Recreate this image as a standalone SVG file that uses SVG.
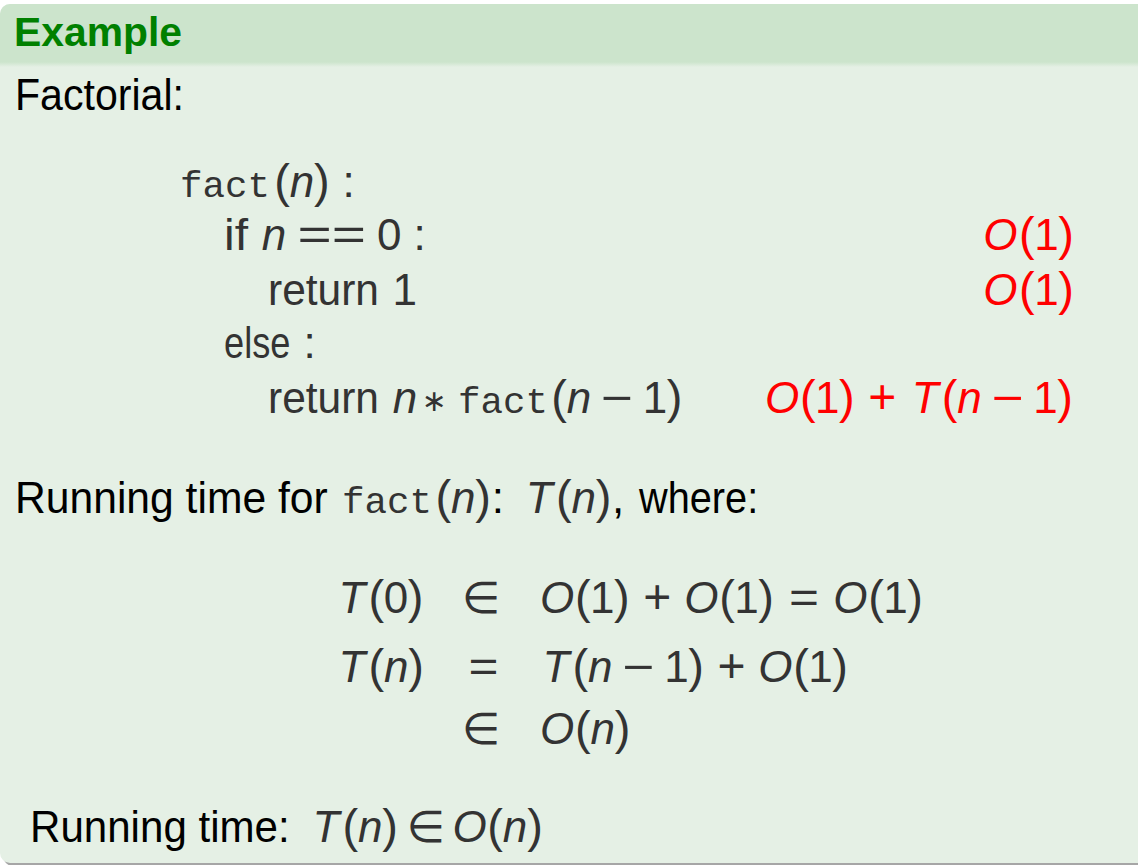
<svg xmlns="http://www.w3.org/2000/svg" width="1138" height="865" viewBox="0 0 1138 865">
<style>
text{font-family:"Liberation Sans",Arial,sans-serif;font-size:44px;fill:#333333}
.tx{fill:#000000}
.it{font-style:italic}
.tt{font-family:"Liberation Mono","DejaVu Sans Mono",monospace;font-size:37.5px}
.sym{font-family:"DejaVu Sans","Liberation Sans",sans-serif}
.ast{font-family:"DejaVu Sans","Liberation Sans",sans-serif;font-size:30px}
.c{text-anchor:middle}
.p{font-size:47px}
.red{fill:#ff0000}
.pl{font-size:48px}
.title{font-weight:bold;font-size:40px;fill:#008000}
</style>
<defs>
<clipPath id="blk"><path d="M0 14 A10 10 0 0 1 10 4 L1150 4 L1150 863 L10 863 A10 10 0 0 1 0 853 Z"/></clipPath>
<linearGradient id="hg" x1="0" y1="0" x2="0" y2="1"><stop offset="0" stop-color="#cce4cc"/><stop offset="1" stop-color="#e5f0e5"/></linearGradient>
</defs>
<g id="block">
<path d="M3 17 A10 10 0 0 1 13 7 L1150 7 L1150 866 L13 866 A10 10 0 0 1 3 856 Z" fill="#a6a6a6"/>
<path d="M0 14 A10 10 0 0 1 10 4 L1150 4 L1150 863 L10 863 A10 10 0 0 1 0 853 Z" fill="#e5f0e5"/>
<g clip-path="url(#blk)">
<rect x="0" y="4" width="1150" height="58" fill="#cce4cc"/>
<rect x="0" y="62" width="1150" height="5" fill="url(#hg)"/>
</g>
</g>
<g id="title"><text class="title" x="14" y="46" textLength="168" lengthAdjust="spacingAndGlyphs">Example</text></g>
<g id="intro"><text class="tx" x="15" y="110" textLength="169" lengthAdjust="spacingAndGlyphs">Factorial:</text></g>

<g id="line-a">
<text class="tt" x="180" y="197">fact</text>
<text class="c p" x="282" y="197">(</text>
<text class="c it" x="301.9" y="197">n</text>
<text class="c p" x="321.8" y="197">)</text>
<text class="c" x="348.5" y="197">:</text>
</g>
<g id="line-b">
<text x="224" y="250" textLength="24" lengthAdjust="spacingAndGlyphs">if</text>
<text class="c it" x="274" y="250">n</text>
<text x="297.6" y="250" textLength="68.4" lengthAdjust="spacingAndGlyphs">==</text>
<text class="c" x="389.2" y="250">0</text>
<text class="c" x="419.5" y="250">:</text>
</g>
<g id="line-c">
<text x="268" y="305" textLength="111" lengthAdjust="spacingAndGlyphs">return</text>
<text class="c" x="404.7" y="305">1</text>
</g>
<g id="line-d">
<text x="224" y="358" textLength="66.4" lengthAdjust="spacingAndGlyphs">else</text>
<text class="c" x="309.5" y="358">:</text>
</g>
<g id="line-e">
<text x="268" y="413" textLength="111" lengthAdjust="spacingAndGlyphs">return</text>
<text class="c it" x="405" y="413">n</text>
<text class="c ast" x="434" y="411">∗</text>
<text class="tt" x="458" y="413">fact</text>
<text class="c p" x="559" y="413">(</text>
<text class="c it" x="578.9" y="413">n</text>
<text class="c" x="617.1" y="413" textLength="32" lengthAdjust="spacingAndGlyphs">−</text>
<text class="c" x="655" y="413">1</text>
<text class="c p" x="674.6" y="413">)</text>
</g>

<g id="cost-b">
<text class="c it red" x="1000.4" y="250">O</text>
<text class="c red p" x="1026.9" y="250">(</text>
<text class="c red" x="1046.5" y="250">1</text>
<text class="c red p" x="1066.1" y="250">)</text>
</g>
<g id="cost-c">
<text class="c it red" x="1000.4" y="305">O</text>
<text class="c red p" x="1026.9" y="305">(</text>
<text class="c red" x="1046.5" y="305">1</text>
<text class="c red p" x="1066.1" y="305">)</text>
</g>
<g id="cost-e">
<text class="c it red" x="782.1" y="413">O</text>
<text class="c red p" x="807.8" y="413">(</text>
<text class="c red" x="827.3" y="413">1</text>
<text class="c red p" x="846.9" y="413">)</text>
<text class="c red pl" x="882.3" y="413">+</text>
<text class="c it red" x="925.1" y="413">T</text>
<text class="c red p" x="949.6" y="413">(</text>
<text class="c it red" x="969.5" y="413">n</text>
<text class="c red" x="1007.7" y="413" textLength="32" lengthAdjust="spacingAndGlyphs">−</text>
<text class="c red" x="1045.6" y="413">1</text>
<text class="c red p" x="1065.2" y="413">)</text>
</g>

<g id="running">
<text class="tx" x="15" y="513" textLength="312.7" lengthAdjust="spacingAndGlyphs">Running time for</text>
<text class="tt" x="342" y="513">fact</text>
<text class="c p" x="443.4" y="513">(</text>
<text class="c it" x="463.3" y="513">n</text>
<text class="c p" x="483.2" y="513">)</text>
<text class="c tx" x="497.8" y="513">:</text>
<text class="c it" x="539.3" y="513">T</text>
<text class="c p" x="563.8" y="513">(</text>
<text class="c it" x="583.7" y="513">n</text>
<text class="c p" x="603.6" y="513">)</text>
<text class="c tx" x="618.2" y="513">,</text>
<text class="tx" x="639" y="513" textLength="119.2" lengthAdjust="spacingAndGlyphs">where:</text>
</g>

<g id="eq-1">
<text class="c it" x="351.9" y="613">T</text>
<text class="c p" x="376.4" y="613">(</text>
<text class="c" x="395.9" y="613">0</text>
<text class="c p" x="415.5" y="613">)</text>
<text class="c sym" x="481" y="613">∈</text>
<text class="c it" x="557.1" y="613">O</text>
<text class="c p" x="582.8" y="613">(</text>
<text class="c" x="602.3" y="613">1</text>
<text class="c p" x="621.9" y="613">)</text>
<text class="c pl" x="657.3" y="613">+</text>
<text class="c it" x="701.3" y="613">O</text>
<text class="c p" x="727" y="613">(</text>
<text class="c" x="746.5" y="613">1</text>
<text class="c p" x="766.1" y="613">)</text>
<text class="c" x="803.9" y="613" textLength="30" lengthAdjust="spacingAndGlyphs">=</text>
<text class="c it" x="850.3" y="613">O</text>
<text class="c p" x="876" y="613">(</text>
<text class="c" x="895.5" y="613">1</text>
<text class="c p" x="915.1" y="613">)</text>
</g>
<g id="eq-2">
<text class="c it" x="351.9" y="682">T</text>
<text class="c p" x="376.4" y="682">(</text>
<text class="c it" x="396.3" y="682">n</text>
<text class="c p" x="416.2" y="682">)</text>
<text class="c" x="483.5" y="682" textLength="30" lengthAdjust="spacingAndGlyphs">=</text>
<text class="c it" x="555.9" y="682">T</text>
<text class="c p" x="580.4" y="682">(</text>
<text class="c it" x="600.3" y="682">n</text>
<text class="c" x="638.5" y="682" textLength="32" lengthAdjust="spacingAndGlyphs">−</text>
<text class="c" x="676.4" y="682">1</text>
<text class="c p" x="696" y="682">)</text>
<text class="c pl" x="731.4" y="682">+</text>
<text class="c it" x="775.4" y="682">O</text>
<text class="c p" x="801" y="682">(</text>
<text class="c" x="820.6" y="682">1</text>
<text class="c p" x="840.2" y="682">)</text>
</g>
<g id="eq-3">
<text class="c sym" x="481" y="744">∈</text>
<text class="c it" x="557.1" y="744">O</text>
<text class="c p" x="582.8" y="744">(</text>
<text class="c it" x="602.7" y="744">n</text>
<text class="c p" x="622.6" y="744">)</text>
</g>

<g id="conclusion">
<text class="tx" x="30" y="842" textLength="259.7" lengthAdjust="spacingAndGlyphs">Running time:</text>
<text class="c it" x="325.9" y="842">T</text>
<text class="c p" x="350.4" y="842">(</text>
<text class="c it" x="370.3" y="842">n</text>
<text class="c p" x="390.2" y="842">)</text>
<text class="c sym" x="425.6" y="842">∈</text>
<text class="c it" x="469.5" y="842">O</text>
<text class="c p" x="495.1" y="842">(</text>
<text class="c it" x="515" y="842">n</text>
<text class="c p" x="535" y="842">)</text>
</g>
</svg>
